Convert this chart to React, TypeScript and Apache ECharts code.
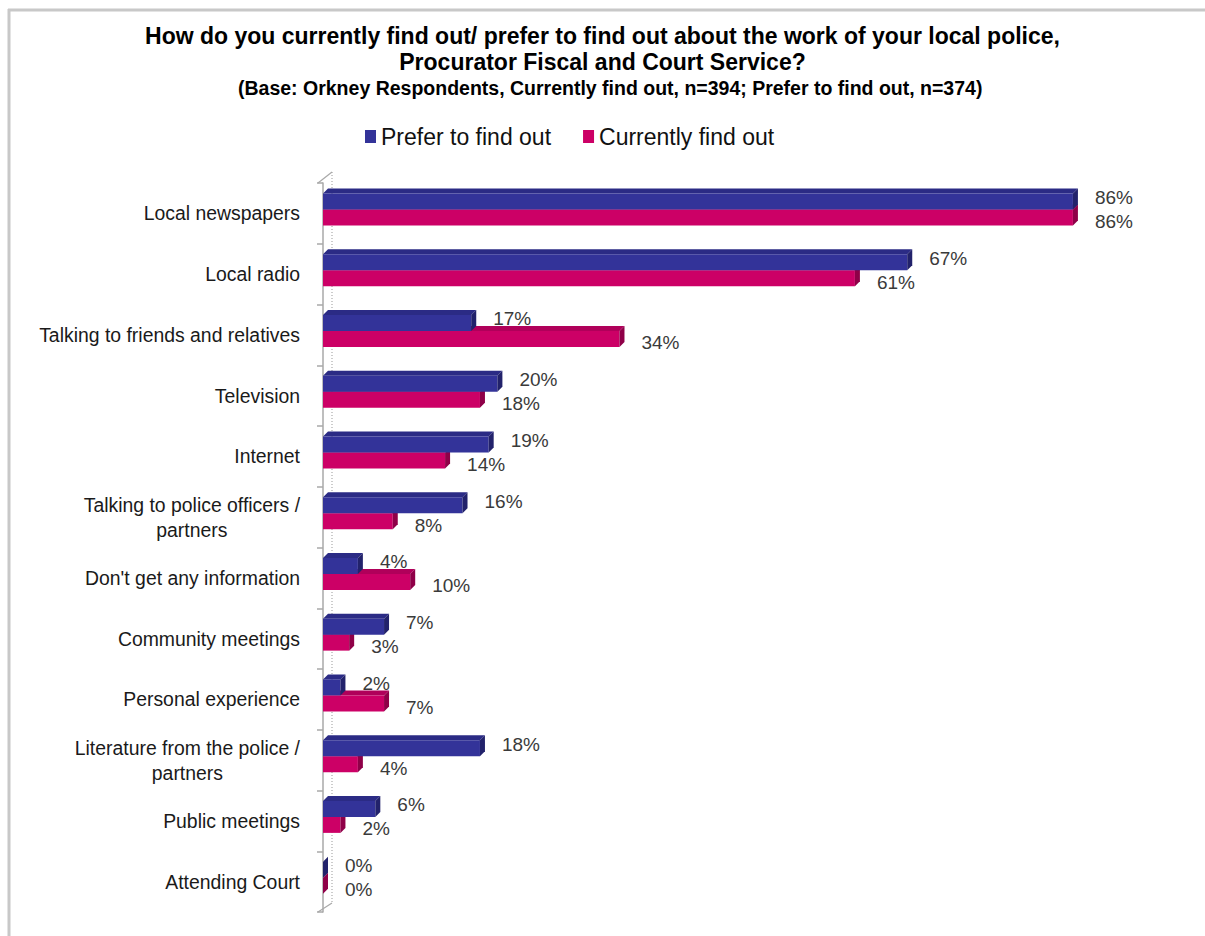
import React, { useEffect, useRef } from "react";
import * as echarts from "echarts";

const categories = [
  "Local newspapers",
  "Local radio",
  "Talking to friends and relatives",
  "Television",
  "Internet",
  "Talking to police officers /\npartners",
  "Don't get any information",
  "Community meetings",
  "Personal experience",
  "Literature from the police /\npartners",
  "Public meetings",
  "Attending Court",
];
const preferValues = [86, 67, 17, 20, 19, 16, 4, 7, 2, 18, 6, 0];
const currentValues = [86, 61, 34, 18, 14, 8, 10, 3, 7, 4, 2, 0];
const seriesNames = ["Prefer to find out", "Currently find out"];

const FONT = "'Liberation Sans', Arial, sans-serif";
const GRID_LEFT = 323;
const GRID_TOP = 183;
const GRID_BOTTOM_Y = 912;

function makeRender(kind: "prefer" | "current", front: string, top: string, side: string) {
  return (params: any, api: any) => {
    const v = api.value(0);
    const ci = api.value(1);
    const start = api.coord([0, ci]);
    const end = api.coord([v, ci]);
    const band = api.size([0, 1])[1];
    const c = end[1];
    const k = band / 60.75;
    const y0 = kind === "prefer" ? c - 20 * k : c - 4 * k;
    const y1 = kind === "prefer" ? c - 4 * k : c + 12 * k;
    const dx = 5;
    const dy = -5;
    const x0 = start[0];
    const x1 = end[0];
    const labelY = kind === "prefer" ? c - 16 * k : c + 8 * k;
    return {
      type: "group",
      children: [
        {
          type: "polygon",
          shape: { points: [[x0, y0], [x0 + dx, y0 + dy], [x1 + dx, y0 + dy], [x1, y0]] },
          style: { fill: top },
        },
        {
          type: "rect",
          shape: { x: x0, y: y0, width: Math.max(x1 - x0, 0), height: y1 - y0 },
          style: { fill: front },
        },
        {
          type: "polygon",
          shape: { points: [[x1, y0], [x1 + dx, y0 + dy], [x1 + dx, y1 + dy], [x1, y1]] },
          style: { fill: side },
        },
        {
          type: "text",
          x: x1 + dx + 17,
          y: labelY,
          style: {
            text: v + "%",
            fill: "#3a3a3a",
            font: "19px " + FONT,
            textAlign: "left",
            textVerticalAlign: "middle",
          },
        },
      ],
    };
  };
}

export default function App() {
  const ref = useRef<HTMLDivElement>(null);
  useEffect(() => {
    if (!ref.current) return;
    const chart = echarts.init(ref.current, undefined, { renderer: "svg" });
    const option: any = {
      animation: false,
      backgroundColor: "#ffffff",
      title: [
        {
          text: "How do you currently find out/ prefer to find out about the work of your local police,\nProcurator Fiscal and Court Service?",
          left: "center",
          top: 23,
          padding: 0,
          textStyle: { fontFamily: FONT, fontSize: 23, fontWeight: "bold", color: "#000", lineHeight: 26 },
        },
        {
          text: "(Base: Orkney Respondents, Currently find out, n=394; Prefer to find out, n=374)",
          left: 238,
          top: 78,
          padding: 0,
          textStyle: { fontFamily: FONT, fontSize: 19.5, fontWeight: "bold", color: "#000", lineHeight: 20 },
        },
      ],
      legend: {
        data: seriesNames,
        left: 365,
        top: 125,
        padding: 0,
        icon: "rect",
        itemWidth: 11,
        itemHeight: 13,
        itemGap: 32,
        textStyle: { fontFamily: FONT, fontSize: 23, color: "#111" },
      },
      grid: { left: GRID_LEFT, right: 10, top: GRID_TOP, bottom: 936 - GRID_BOTTOM_Y },
      xAxis: { type: "value", min: 0, max: 100, show: false },
      yAxis: {
        type: "category",
        data: categories,
        inverse: true,
        offset: 5,
        axisLine: { show: true, lineStyle: { color: "#a8a8a8", width: 1.5 } },
        axisTick: { show: true, length: 6, lineStyle: { color: "#a8a8a8", width: 1.5 } },
        splitLine: { show: false },
        axisLabel: {
          margin: 18,
          color: "#1a1a1a",
          fontFamily: FONT,
          fontSize: 19.4,
          formatter: (val: string) =>
            val
              .split("\n")
              .map((l) => "{c|" + l + "}")
              .join("\n"),
          rich: {
            c: { align: "center", fontFamily: FONT, fontSize: 19.4, color: "#1a1a1a", lineHeight: 25 },
          },
        },
      },
      graphic: [
        {
          type: "line",
          shape: { x1: 8, y1: 10, x2: 1205, y2: 10 },
          style: { stroke: "#c8c8c8", lineWidth: 3 },
          z: 0,
        },
        {
          type: "line",
          shape: { x1: 9, y1: 9, x2: 9, y2: 936 },
          style: { stroke: "#c8c8c8", lineWidth: 3 },
          z: 0,
        },
        {
          type: "line",
          shape: { x1: 332, y1: 172, x2: 332, y2: 903 },
          style: { stroke: "#999", lineWidth: 1, lineDash: [1, 2] },
          z: 0,
        },
        {
          type: "line",
          shape: { x1: 318, y1: GRID_TOP, x2: 332, y2: 172 },
          style: { stroke: "#a8a8a8", lineWidth: 1.2 },
          z: 0,
        },
        {
          type: "line",
          shape: { x1: 318, y1: GRID_BOTTOM_Y, x2: 332, y2: 903 },
          style: { stroke: "#a8a8a8", lineWidth: 1.2 },
          z: 0,
        },
      ],
      series: [
        {
          name: seriesNames[1],
          type: "custom",
          itemStyle: { color: "#CC0066" },
          renderItem: makeRender("current", "#CC0066", "#b0005a", "#8f0048"),
          data: currentValues.map((v, i) => [v, i]),
          encode: { x: 0, y: 1 },
          clip: false,
          z: 2,
        },
        {
          name: seriesNames[0],
          type: "custom",
          itemStyle: { color: "#333399" },
          renderItem: makeRender("prefer", "#333399", "#2b2b85", "#22226b"),
          data: preferValues.map((v, i) => [v, i]),
          encode: { x: 0, y: 1 },
          clip: false,
          z: 3,
        },
      ],
    };
    chart.setOption(option);
    return () => chart.dispose();
  }, []);
  return (
    <div
      ref={ref}
      style={{ position: "absolute", left: 0, top: 0, width: 1205, height: 936, background: "#fff" }}
    />
  );
}
